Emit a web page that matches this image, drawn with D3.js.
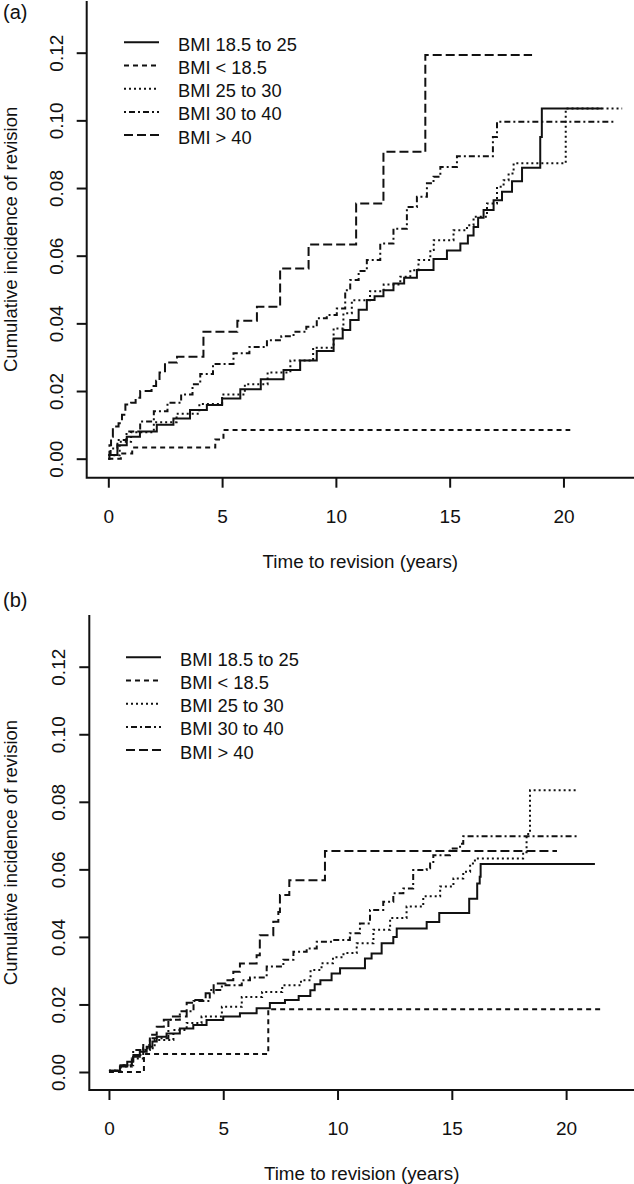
<!DOCTYPE html>
<html><head><meta charset="utf-8">
<script src="https://cdn.jsdelivr.net/npm/d3@7"></script>
<style>
html,body{margin:0;padding:0;background:#fff;}
svg{display:block;}
text{font-family:"Liberation Sans",Arial,Helvetica,sans-serif;fill:#111;}
</style></head>
<body>
<svg id="chart" width="634" height="1184"></svg>
<script>
// ---------- data (time in years, cumulative incidence) ----------
const seriesNames = ["BMI 18.5 to 25", "BMI < 18.5", "BMI 25 to 30", "BMI 30 to 40", "BMI > 40"];
const xTicks = [0, 5, 10, 15, 20];
const yTicks = [0.00, 0.02, 0.04, 0.06, 0.08, 0.10, 0.12];
const panelLabels = ["(a)", "(b)"];
const xTitle = "Time to revision (years)";
const yTitle = "Cumulative incidence of revision";

// Panel (a)
const a_normal = [[0,0.0011],[0.4,0.004],[0.81,0.0065],[1.39,0.008],[2.13,0.0100],[2.86,0.0119],[3.59,0.0144],[4.33,0.0159],[5.0,0.0178],[5.8,0.0205],[6.7,0.0235],[7.7,0.0262],[8.43,0.0290],[9.16,0.0318],[9.9,0.0355],[10.3,0.038],[10.63,0.041],[11.0,0.044],[11.36,0.0469],[11.7,0.048],[12.09,0.0498],[12.53,0.0518],[13.0,0.0535],[13.56,0.0558],[14.29,0.0590],[14.88,0.0615],[15.47,0.0636],[15.8,0.066],[16.05,0.0685],[16.25,0.0712],[16.49,0.0735],[16.93,0.0764],[17.3,0.0789],[17.74,0.082],[18.18,0.086],[18.98,0.0951],[19.05,0.1035],[21.7,0.1035]];
const a_under = [[0,0],[0.55,0.0015],[1.05,0.0033],[4.7,0.0057],[5.06,0.0085],[20.3,0.0085]];
const a_over = [[0,0.001],[0.5,0.005],[1,0.0078],[2,0.0108],[3,0.0133],[4,0.0162],[5,0.019],[6,0.022],[7,0.0255],[8,0.029],[9,0.0328],[9.9,0.0385],[10.33,0.043],[10.7,0.0468],[11.5,0.0495],[12.1,0.0515],[12.83,0.0538],[13.27,0.0557],[13.63,0.0587],[14.15,0.0617],[14.3,0.0646],[15.17,0.0675],[15.76,0.069],[16.05,0.0715],[16.64,0.0754],[17.08,0.0804],[17.37,0.0823],[17.59,0.0843],[17.81,0.0873],[20.1,0.1035],[22.58,0.1035]];
const a_obese = [[0,0],[0.1,0.003],[0.4,0.0055],[0.8,0.008],[1.4,0.011],[2.0,0.0140],[2.6,0.0165],[3.2,0.019],[3.7,0.022],[4.04,0.025],[4.6,0.028],[5.5,0.0312],[6.2,0.033],[6.97,0.035],[7.6,0.0362],[8.14,0.0375],[8.7,0.039],[9.16,0.0415],[9.6,0.0425],[10.04,0.0444],[10.41,0.0498],[10.63,0.0528],[11.0,0.0555],[11.36,0.0587],[11.95,0.0636],[12.53,0.068],[13.12,0.0744],[13.56,0.0774],[14.0,0.0814],[14.29,0.0833],[14.59,0.0862],[15.32,0.0894],[16.9,0.0951],[17.08,0.0996],[22.2,0.0996]];
const a_morbid = [[0,0],[0.05,0.004],[0.12,0.0065],[0.2,0.0095],[0.45,0.0105],[0.6,0.013],[0.75,0.016],[1.0,0.0165],[1.2,0.018],[1.4,0.02],[1.9,0.0215],[2.1,0.023],[2.25,0.0255],[2.49,0.0284],[3.02,0.0301],[4.18,0.0375],[5.67,0.0408],[6.53,0.0449],[7.55,0.0562],[8.80,0.0633],[10.89,0.0754],[12.09,0.0907],[13.93,0.1193],[18.62,0.1193]];

// Panel (b)
const b_normal = [[0,0.0004],[0.48,0.0016],[0.8,0.003],[1.06,0.0045],[1.35,0.006],[1.65,0.0075],[1.9,0.009],[2.09,0.0104],[2.52,0.0114],[3.1,0.0129],[3.69,0.0139],[4.27,0.0154],[5.0,0.0164],[5.73,0.0174],[6.46,0.0189],[7.04,0.0204],[7.7,0.0213],[8.3,0.0225],[8.81,0.0242],[9.0,0.026],[9.25,0.0272],[9.74,0.0292],[10.11,0.0307],[11.2,0.0336],[11.49,0.0351],[11.93,0.0381],[12.44,0.0400],[12.59,0.0425],[13.9,0.0444],[14.45,0.0471],[15.76,0.0513],[16.11,0.0558],[16.22,0.0578],[16.26,0.0616],[21.26,0.0616]];
const b_under = [[0,0],[1.53,0.0053],[6.97,0.0186],[21.6,0.0186]];
const b_over = [[0,0.0004],[0.5,0.0016],[1.0,0.004],[1.5,0.007],[2.0,0.0095],[2.82,0.0124],[3.4,0.0145],[4.05,0.0164],[4.94,0.0193],[5.81,0.0222],[6.7,0.0237],[7.58,0.0257],[8.4,0.0272],[8.82,0.0302],[9.3,0.0322],[9.8,0.034],[10.26,0.0352],[10.84,0.0381],[11.57,0.0421],[12.3,0.0456],[13.02,0.049],[13.75,0.052],[14.49,0.0549],[15.07,0.0573],[15.5,0.0593],[15.8,0.0617],[16.01,0.0632],[18.12,0.0651],[18.27,0.0705],[18.42,0.0834],[20.46,0.0834]];
const b_obese = [[0,0.0004],[0.5,0.002],[1.06,0.0065],[1.79,0.0100],[2.6,0.0155],[3.1,0.018],[3.7,0.021],[4.41,0.0243],[4.94,0.0257],[5.81,0.0272],[6.17,0.028],[6.9,0.0312],[7.63,0.0332],[8.07,0.0356],[8.65,0.0366],[9.09,0.0386],[9.81,0.0391],[10.54,0.0411],[10.98,0.044],[11.42,0.048],[12.0,0.0504],[12.44,0.0529],[12.88,0.0543],[13.31,0.0598],[13.9,0.0603],[14.05,0.0617],[14.19,0.0642],[14.92,0.0662],[15.36,0.0676],[15.5,0.0698],[20.46,0.0698]];
const b_morbid = [[0,0.0004],[0.5,0.002],[1.0,0.005],[1.5,0.008],[1.79,0.011],[2.09,0.0134],[2.4,0.0155],[2.67,0.0164],[3.4,0.0205],[3.69,0.0213],[4.23,0.0233],[4.58,0.0262],[5.11,0.0272],[5.44,0.0297],[5.73,0.0321],[6.46,0.0346],[6.6,0.0405],[7.19,0.0445],[7.41,0.0474],[7.48,0.0524],[7.89,0.0568],[9.45,0.0654],[19.6,0.0654]];

// ---------- styles ----------
const dashes = [null, "5,4", "2,3", "2,3,6,3", "9,4"];

const panels = [
  {label: panelLabels[0], series: [a_normal, a_under, a_over, a_obese, a_morbid],
   left: 86.7, right: 634, top: 1, bottom: 477.7,
   xDom: [-0.95, 23.1], yDom: [-0.00562, 0.13528],
   labelY: 19, legX: 124, legY: 42.3},
  {label: panelLabels[1], series: [b_normal, b_under, b_over, b_obese, b_morbid],
   left: 89.3, right: 634, top: 615, bottom: 1090,
   xDom: [-0.86, 22.97], yDom: [-0.00533, 0.13531],
   labelY: 607, legX: 126, legY: 657.3}
];

const svg = d3.select("#chart");

panels.forEach(p => {
  const g = svg.append("g");
  const x = d3.scaleLinear().domain(p.xDom).range([p.left, p.right]);
  const y = d3.scaleLinear().domain(p.yDom).range([p.bottom, p.top]);

  // axes
  const xa = g.append("g").attr("transform", `translate(0,${p.bottom})`)
    .call(d3.axisBottom(x).tickValues(xTicks).tickFormat(d3.format("d")).tickSize(10).tickSizeOuter(0).tickPadding(0));
  xa.select(".domain").remove();
  xa.selectAll("line").attr("stroke", "#111").attr("stroke-width", 2);
  xa.selectAll("text").attr("y", 45).attr("dy", null)
    .attr("font-size", 19).attr("font-family", "Liberation Sans, Arial, sans-serif").attr("fill", "#111");

  const ya = g.append("g").attr("transform", `translate(${p.left},0)`)
    .call(d3.axisLeft(y).tickValues(yTicks).tickFormat(d3.format(".2f")).tickSize(10).tickSizeOuter(0));
  ya.select(".domain").remove();
  ya.selectAll("line").attr("stroke", "#111").attr("stroke-width", 2);
  ya.selectAll("text").attr("x", null).attr("dy", null)
    .attr("transform", "translate(-24,0) rotate(-90)")
    .attr("text-anchor", "middle")
    .attr("font-size", 19).attr("font-family", "Liberation Sans, Arial, sans-serif").attr("fill", "#111");

  // L-shaped box
  g.append("path")
    .attr("d", `M${p.left},${p.top}V${p.bottom}H${p.right}`)
    .attr("fill", "none").attr("stroke", "#111").attr("stroke-width", 2);

  // titles
  g.append("text").attr("x", (p.left + p.right) / 2).attr("y", p.bottom + 90)
    .attr("text-anchor", "middle").attr("font-size", 18.8).text(xTitle);
  g.append("text")
    .attr("transform", `translate(17,${(p.top + p.bottom) / 2}) rotate(-90)`)
    .attr("text-anchor", "middle").attr("font-size", 18.5).text(yTitle);
  g.append("text").attr("x", 3).attr("y", p.labelY).attr("font-size", 20).text(p.label);

  // curves
  const line = d3.line().x(d => x(d[0])).y(d => y(d[1])).curve(d3.curveStepAfter);
  p.series.forEach((s, i) => {
    g.append("path").attr("d", line(s))
      .attr("fill", "none").attr("stroke", "#111").attr("stroke-width", 2)
      .attr("stroke-dasharray", dashes[i]);
  });

  // legend
  seriesNames.forEach((name, i) => {
    const yy = p.legY + i * 23.2;
    g.append("line").attr("x1", p.legX).attr("x2", p.legX + 35).attr("y1", yy).attr("y2", yy)
      .attr("stroke", "#111").attr("stroke-width", 2).attr("stroke-dasharray", dashes[i]);
    g.append("text").attr("x", p.legX + 54).attr("y", yy + 8.5).attr("font-size", 18.3).text(name);
  });
});
</script>
</body></html>
